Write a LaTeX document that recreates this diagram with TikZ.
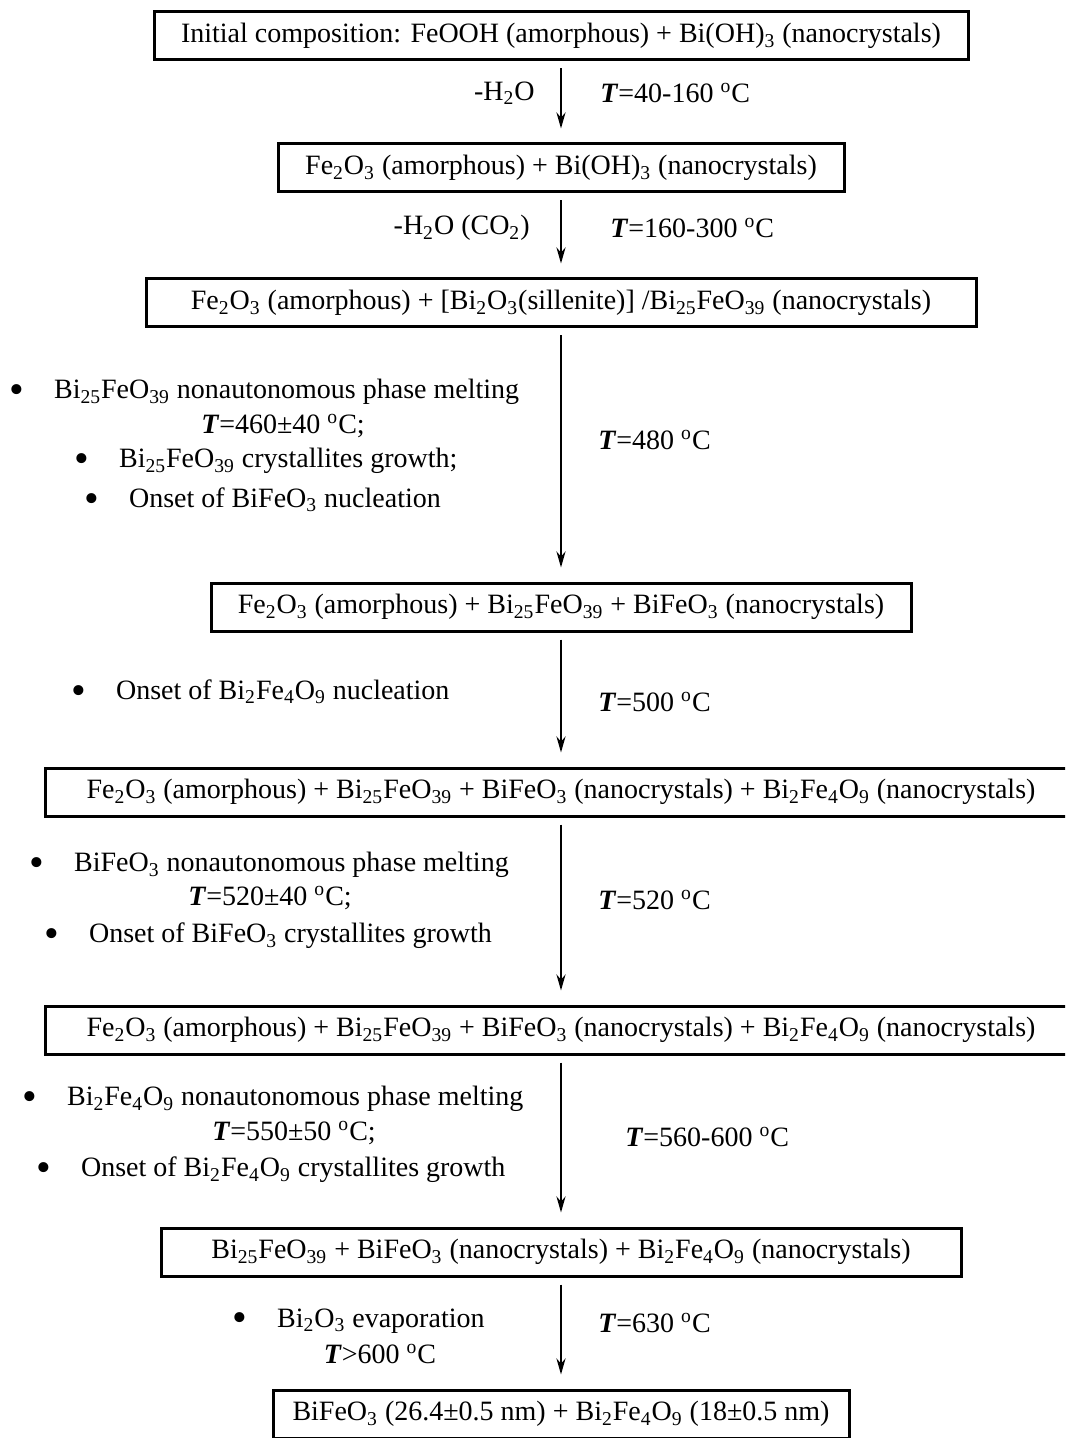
\documentclass[tikz,border=0pt]{standalone}
\usepackage{fontspec}
\setmainfont{Liberation Serif}
\usetikzlibrary{arrows.meta}
\newcommand{\Tt}{\textbf{\textit{T}}}
\newcommand{\dg}{\textsuperscript{o}C}
\newcommand{\bul}{\raisebox{-0.16em}{\scalebox{1.5}{\textbullet}}\hspace{15pt}}
\begin{document}
\begin{tikzpicture}[x=0.5pt,y=-0.5pt,font=\fontsize{14}{16}\selectfont,
  box/.style={draw,line width=1.5pt,minimum height=24pt,inner sep=0pt},
  flow/.style={line width=1.2pt,-{Stealth[length=8pt,width=4.5pt]},shorten <=3.5pt,shorten >=7pt},
  every node/.style={inner sep=0pt}]
  \useasboundingbox (0,0) rectangle (1065,1438);
  \clip (0,0) rectangle (1065,1438);
  \node (1) at (561,36)[box,minimum width=407pt]{Initial composition: FeOOH (amorphous) + Bi(OH)\textsubscript{3} (nanocrystals)};
  \node (2) at (561,168)[box,minimum width=283pt]{Fe\textsubscript{2}O\textsubscript{3} (amorphous) + Bi(OH)\textsubscript{3} (nanocrystals)};
  \node (3) at (561,303)[box,minimum width=415pt]{Fe\textsubscript{2}O\textsubscript{3} (amorphous) + [Bi\textsubscript{2}O\textsubscript{3}(sillenite)] /Bi\textsubscript{25}FeO\textsubscript{39} (nanocrystals)};
  \node (4) at (561,607)[box,minimum width=350pt]{Fe\textsubscript{2}O\textsubscript{3} (amorphous) + Bi\textsubscript{25}FeO\textsubscript{39} + BiFeO\textsubscript{3} (nanocrystals)};
  \node (5) at (561,792)[box,minimum width=516pt]{Fe\textsubscript{2}O\textsubscript{3} (amorphous) + Bi\textsubscript{25}FeO\textsubscript{39} + BiFeO\textsubscript{3} (nanocrystals) + Bi\textsubscript{2}Fe\textsubscript{4}O\textsubscript{9} (nanocrystals)};
  \node (6) at (561,1030)[box,minimum width=516pt]{Fe\textsubscript{2}O\textsubscript{3} (amorphous) + Bi\textsubscript{25}FeO\textsubscript{39} + BiFeO\textsubscript{3} (nanocrystals) + Bi\textsubscript{2}Fe\textsubscript{4}O\textsubscript{9} (nanocrystals)};
  \node (7) at (561,1252)[box,minimum width=400pt]{Bi\textsubscript{25}FeO\textsubscript{39} + BiFeO\textsubscript{3} (nanocrystals) + Bi\textsubscript{2}Fe\textsubscript{4}O\textsubscript{9} (nanocrystals)};
  \node (8) at (561,1414)[box,minimum width=288pt]{BiFeO\textsubscript{3} (26.4±0.5 nm) + Bi\textsubscript{2}Fe\textsubscript{4}O\textsubscript{9} (18±0.5 nm)};
  \draw[flow](1)--(2);
  \draw[flow](2)--(3);
  \draw[flow](3)--(4);
  \draw[flow](4)--(5);
  \draw[flow](5)--(6);
  \draw[flow](6)--(7);
  \draw[flow](7)--(8);
  \node (w1) at (535,93)[anchor=east]{-H\textsubscript{2}O};
  \node (t1) at (600,93)[anchor=west]{\Tt=40-160 \dg};
  \node (w2) at (530,228)[anchor=east]{-H\textsubscript{2}O (CO\textsubscript{2})};
  \node (t2) at (610,228)[anchor=west]{\Tt=160-300 \dg};
  \node (t3) at (598,440)[anchor=west]{\Tt=480 \dg};
  \node (t4) at (598,702)[anchor=west]{\Tt=500 \dg};
  \node (t5) at (598,900)[anchor=west]{\Tt=520 \dg};
  \node (t6) at (625,1137)[anchor=west]{\Tt=560-600 \dg};
  \node (t7) at (598,1323)[anchor=west]{\Tt=630 \dg};
  \node (a1) at (9,392)[anchor=west]{\bul Bi\textsubscript{25}FeO\textsubscript{39} nonautonomous phase melting};
  \node (a2) at (283,426){\Tt=460±40 \dg;};
  \node (a3) at (74,461)[anchor=west]{\bul Bi\textsubscript{25}FeO\textsubscript{39} crystallites growth;};
  \node (a4) at (84,500)[anchor=west]{\bul Onset of BiFeO\textsubscript{3} nucleation};
  \node (b1) at (71,692)[anchor=west]{\bul Onset of Bi\textsubscript{2}Fe\textsubscript{4}O\textsubscript{9} nucleation};
  \node (c1) at (29,865)[anchor=west]{\bul BiFeO\textsubscript{3} nonautonomous phase melting};
  \node (c2) at (270,898){\Tt=520±40 \dg;};
  \node (c3) at (44,936)[anchor=west]{\bul Onset of BiFeO\textsubscript{3} crystallites growth};
  \node (d1) at (22,1099)[anchor=west]{\bul Bi\textsubscript{2}Fe\textsubscript{4}O\textsubscript{9} nonautonomous phase melting};
  \node (d2) at (294,1133){\Tt=550±50 \dg;};
  \node (d3) at (36,1170)[anchor=west]{\bul Onset of Bi\textsubscript{2}Fe\textsubscript{4}O\textsubscript{9} crystallites growth};
  \node (e1) at (232,1321)[anchor=west]{\bul Bi\textsubscript{2}O\textsubscript{3} evaporation};
  \node (e2) at (380,1354){\Tt>600 \dg};
\end{tikzpicture}
\end{document}
